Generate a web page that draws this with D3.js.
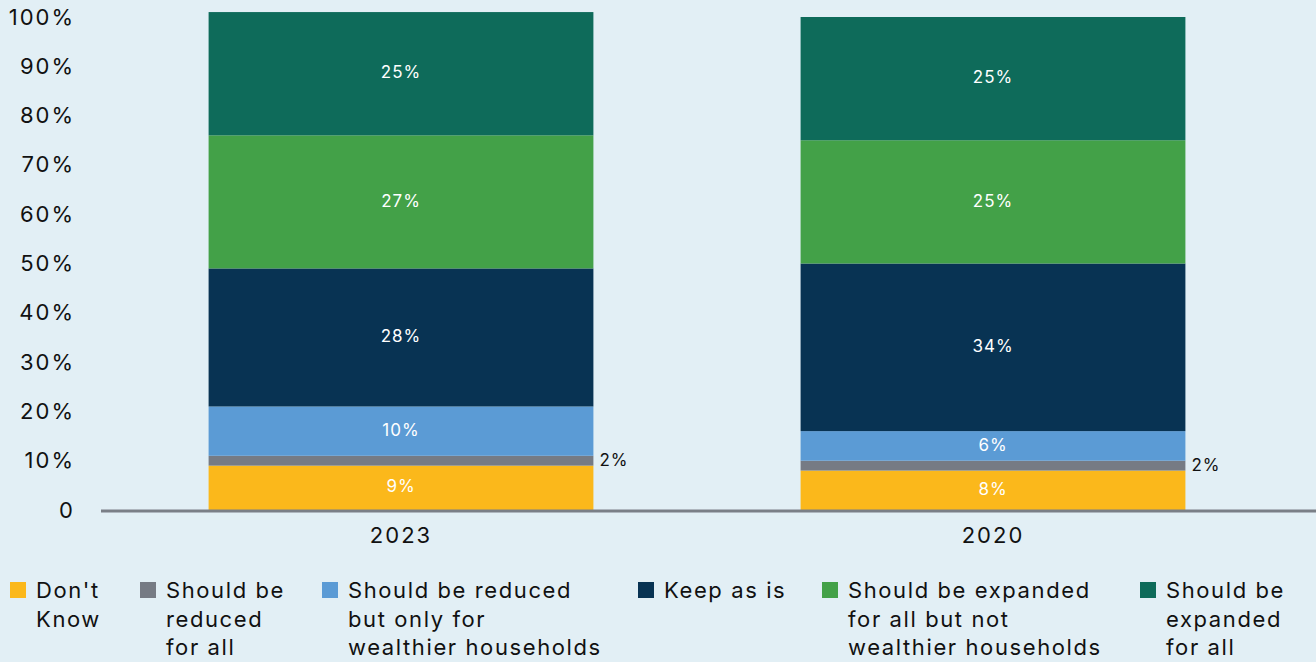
<!DOCTYPE html>
<html>
<head>
<meta charset="utf-8">
<script src="https://cdn.jsdelivr.net/npm/d3@7"></script>
<style>
  html, body { margin: 0; padding: 0; background: #e2eff5; }
  svg { display: block; font-family: "Inter", sans-serif; }
</style>
</head>
<body>
<svg id="chart" width="1316" height="662"></svg>
<script>
// Survey years (bars) and answer categories (stack order, bottom to top)
const years = ["2023", "2020"];
const seriesNames = ["Don't Know", "Should be reduced for all", "Should be reduced but only for wealthier households",
  "Keep as is", "Should be expanded for all but not wealthier households", "Should be expanded for all"];
const legendLines = [["Don't", "Know"], ["Should be", "reduced", "for all"], ["Should be reduced", "but only for", "wealthier households"],
  ["Keep as is"], ["Should be expanded", "for all but not", "wealthier households"], ["Should be", "expanded", "for all"]];
const colors = ["#fbb81b", "#767b84", "#5b9bd5", "#083353", "#43a148", "#0e6b5a"];
// Percent values per year, same order as seriesNames
const values2023 = [9, 2, 10, 28, 27, 25];
const values2020 = [8, 2, 6, 34, 25, 25];
const yTicks = [0, 10, 20, 30, 40, 50, 60, 70, 80, 90, 100];

const FONT = "Inter, sans-serif";

const rows = [values2023, values2020].map((vals, i) => {
  const r = { year: years[i] };
  seriesNames.forEach((s, j) => r[s] = vals[j]);
  return r;
});

const svg = d3.select("#chart");
const W = 1316;

const x = d3.scaleBand().domain(years).range([105, 1289]).paddingInner(0.35).paddingOuter(0.175);
const y = d3.scaleLinear().domain([0, 100]).range([510, 17]);

const stacked = d3.stack().keys(seriesNames)(rows);

// y tick labels
const yAxis = d3.axisLeft(y).tickValues(yTicks).tickSize(0).tickPadding(0)
  .tickFormat(d => d === 0 ? "0" : d + "%");
const gy = svg.append("g").attr("transform", "translate(75,0)").call(yAxis);
gy.select(".domain").remove();
gy.selectAll("text").attr("font-size", 22).attr("fill", "#111")
  .attr("font-family", FONT).attr("letter-spacing", 2);

// bars
const layers = svg.append("g").selectAll("g").data(stacked).join("g")
  .attr("fill", (d, i) => colors[i]);
layers.selectAll("rect").data(d => d).join("rect")
  .attr("x", d => x(d.data.year))
  .attr("width", x.bandwidth())
  .attr("y", d => y(d[1]))
  .attr("height", d => y(d[0]) - y(d[1]));

// value labels
stacked.forEach((layer, i) => {
  layer.forEach(d => {
    const v = d[1] - d[0];
    const mid = (y(d[0]) + y(d[1])) / 2;
    const t = svg.append("text")
      .attr("dominant-baseline", "middle")
      .attr("font-size", 17).attr("letter-spacing", 1)
      .text(v + "%");
    if (v <= 2) {
      t.attr("x", x(d.data.year) + x.bandwidth() + 6).attr("y", mid + 1).attr("fill", "#111");
    } else {
      t.attr("x", x(d.data.year) + x.bandwidth() / 2).attr("y", mid)
        .attr("text-anchor", "middle").attr("fill", "#fff");
    }
  });
});

// baseline
svg.append("line").attr("x1", 101).attr("x2", W).attr("y1", y(0) + 1).attr("y2", y(0) + 1)
  .attr("stroke", "#7a7f87").attr("stroke-width", 3);

// x labels
const xAxis = d3.axisBottom(x).tickSize(0).tickPadding(0);
const gx = svg.append("g").attr("transform", "translate(0,543)").call(xAxis);
gx.select(".domain").remove();
gx.selectAll("text").attr("font-size", 22).attr("fill", "#111").attr("dy", 0)
  .attr("font-family", FONT).attr("letter-spacing", 2);

// legend
const legendX = [10, 140, 322, 638, 822, 1140];
const legend = svg.append("g");
seriesNames.forEach((s, i) => {
  const g = legend.append("g").attr("transform", `translate(${legendX[i]},0)`);
  g.append("rect").attr("x", 0).attr("y", 582).attr("width", 16).attr("height", 16).attr("fill", colors[i]);
  legendLines[i].forEach((ln, k) => {
    g.append("text").attr("x", 26).attr("y", 598 + k * 28.5)
      .attr("font-size", 22).attr("letter-spacing", 1.6).attr("fill", "#111").text(ln);
  });
});
</script>
</body>
</html>
